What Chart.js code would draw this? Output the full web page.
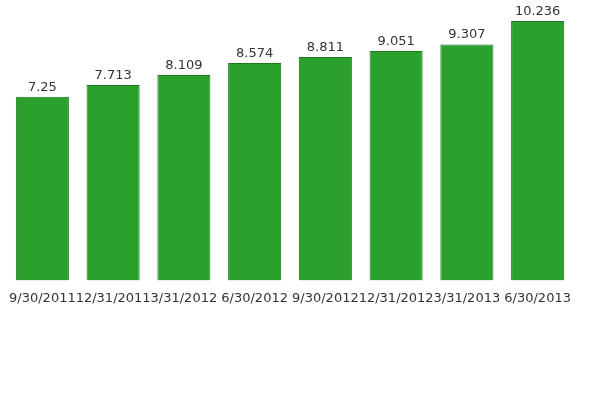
<!DOCTYPE html>
<html>
<head>
<script src="https://cdn.jsdelivr.net/npm/chart.js@4"></script>
<style>
body { margin: 0; background: #fff; }
</style>
</head>
<body>
<canvas id="chart" width="600" height="400"></canvas>
<script>
const dates = ["9/30/2011", "12/31/2011", "3/31/2012", "6/30/2012", "9/30/2012", "12/31/2012", "3/31/2013", "6/30/2013"];
const values = [7.25, 7.713, 8.109, 8.574, 8.811, 9.051, 9.307, 10.236];

// draws the number above each bar
const valueLabels = {
  id: "valueLabels",
  afterDatasetsDraw(chart) {
    const ctx = chart.ctx;
    const meta = chart.getDatasetMeta(0);
    ctx.save();
    ctx.font = "13px 'DejaVu Sans'";
    ctx.fillStyle = "#333";
    ctx.textAlign = "center";
    ctx.textBaseline = "bottom";
    meta.data.forEach(function(bar, i) {
      ctx.fillText(String(values[i]), bar.x, bar.y - 3);
    });
    ctx.restore();
  }
};

new Chart(document.getElementById("chart"), {
  type: "bar",
  data: {
    labels: dates,
    datasets: [{
      data: values,
      backgroundColor: "#2ca02c",
      borderColor: "#1f7a1f",
      borderWidth: 1,
      barPercentage: 0.75,
      categoryPercentage: 1
    }]
  },
  options: {
    responsive: false,
    animation: false,
    layout: { padding: { top: 21, left: 7, right: 27, bottom: 92 } },
    plugins: { legend: { display: false }, tooltip: { enabled: false } },
    scales: {
      y: { display: false, min: 0, max: 10.236 },
      x: {
        grid: { display: false },
        border: { display: false },
        ticks: { color: "#333", font: { family: "DejaVu Sans", size: 13 }, maxRotation: 0, autoSkip: false, padding: 2 }
      }
    }
  },
  plugins: [valueLabels]
});
</script>
</body>
</html>
